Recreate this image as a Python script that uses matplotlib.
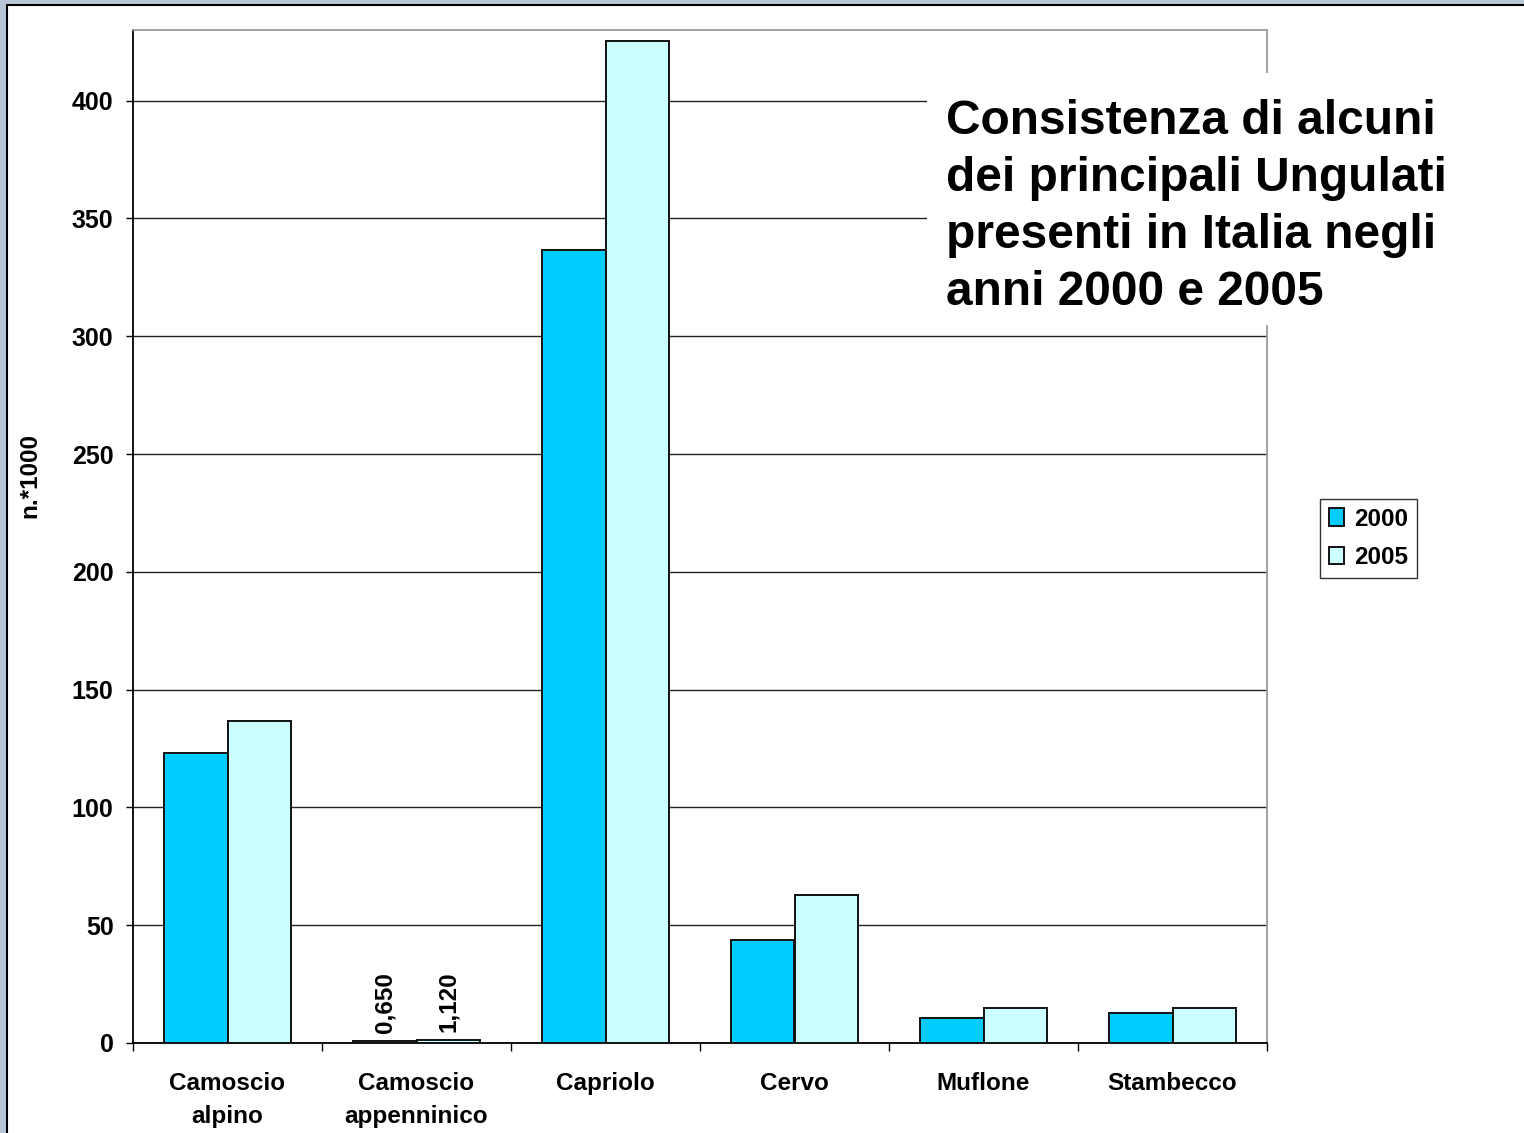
import matplotlib
matplotlib.use("Agg")
import matplotlib.pyplot as plt
from matplotlib.patches import Rectangle
import numpy as np

plt.rcParams['font.family'] = ['Liberation Sans', 'DejaVu Sans']
plt.rcParams['font.weight'] = 'bold'

# consistenza (migliaia di capi)
specie = ["Camoscio\nalpino", "Camoscio\nappenninico", "Capriolo", "Cervo", "Muflone", "Stambecco"]
anno_2000 = [123.0, 0.650, 336.7, 43.7, 10.6, 12.7]
anno_2005 = [136.6, 1.120, 425.5, 62.8, 14.9, 14.9]
etichette_valori = {1: ("0,650", "1,120")}

W, H = 1524, 1133
fig = plt.figure(figsize=(W / 100, H / 100), dpi=100)
fig.patch.set_facecolor("#b8c6d8")

# pagina bianca con bordo nero in alto e a sinistra
fig.patches.append(Rectangle((7 / W, -0.1), 1.2, 1 - 5 / H + 0.1, transform=fig.transFigure,
                             facecolor="white", edgecolor="black", lw=1.5, zorder=-10))

ax = fig.add_axes([133 / W, 90 / H, 1134 / W, 1013 / H])
x = np.arange(len(specie))
w = 0.336
b1 = ax.bar(x - w / 2, anno_2000, w, color="#00ccff", edgecolor="#111111", lw=1.4, label="2000", zorder=3)
b2 = ax.bar(x + w / 2, anno_2005, w, color="#ccffff", edgecolor="#111111", lw=1.4, label="2005", zorder=3)

ax.set_xlim(-0.5, 5.5)
ax.set_ylim(0, 430)
ax.set_yticks(range(0, 401, 50))
ax.yaxis.grid(True, color="#222222", lw=1.0, zorder=0)
ax.set_axisbelow(True)

ax.set_xticks(x)
ax.set_xticklabels(specie, fontsize=17.5, fontweight="bold", linespacing=1.55)
ax.set_xticks(np.arange(-0.5, 6, 1), minor=True)
ax.tick_params(axis="x", which="major", length=0, pad=21)
ax.tick_params(axis="x", which="minor", length=6, width=1, direction="out")
ax.tick_params(axis="y", length=5, width=1, direction="out", pad=9, labelsize=18)
for t in ax.get_yticklabels():
    t.set_fontweight("bold")

ax.spines["left"].set_color("black")
ax.spines["bottom"].set_color("black")
ax.spines["top"].set_color("#999999")
ax.spines["right"].set_color("#999999")
for s in ax.spines.values():
    s.set_linewidth(1.3)

# valori sopra le barre del camoscio appenninico
for i, (t1, t2) in etichette_valori.items():
    ax.annotate(t1, (x[i] - w / 2, anno_2000[i]), xytext=(0, 6), textcoords="offset points",
                rotation=90, ha="center", va="bottom", fontsize=17.5, fontweight="bold")
    ax.annotate(t2, (x[i] + w / 2, anno_2005[i]), xytext=(0, 6), textcoords="offset points",
                rotation=90, ha="center", va="bottom", fontsize=17.5, fontweight="bold")

fig.text(30 / W, 1 - 476 / H, "n.*1000", rotation=90, ha="center", va="center",
         fontsize=17.5, fontweight="bold")

# riquadro del titolo
fig.patches.append(Rectangle((927 / W, 1 - 325 / H), 540 / W, 252 / H, transform=fig.transFigure,
                             facecolor="white", edgecolor="none", zorder=5))
fig.text(946 / W, 1 - 99 / H, "Consistenza di alcuni\ndei principali Ungulati\npresenti in Italia negli\nanni 2000 e 2005",
         ha="left", va="top", fontsize=34.5, fontweight="bold", linespacing=1.34, zorder=6)

leg = fig.legend(handles=[b1, b2], loc="upper left", bbox_to_anchor=(1320 / W, 1 - 499 / H),
                 fontsize=17.5, frameon=True, fancybox=False, edgecolor="black",
                 handlelength=0.65, handleheight=0.7, handletextpad=0.4, borderpad=0.35,
                 labelspacing=0.65, borderaxespad=0)
leg.get_frame().set_linewidth(1.0)
for t in leg.get_texts():
    t.set_fontweight("bold")

fig.savefig("out.png", dpi=100, facecolor=fig.get_facecolor())
